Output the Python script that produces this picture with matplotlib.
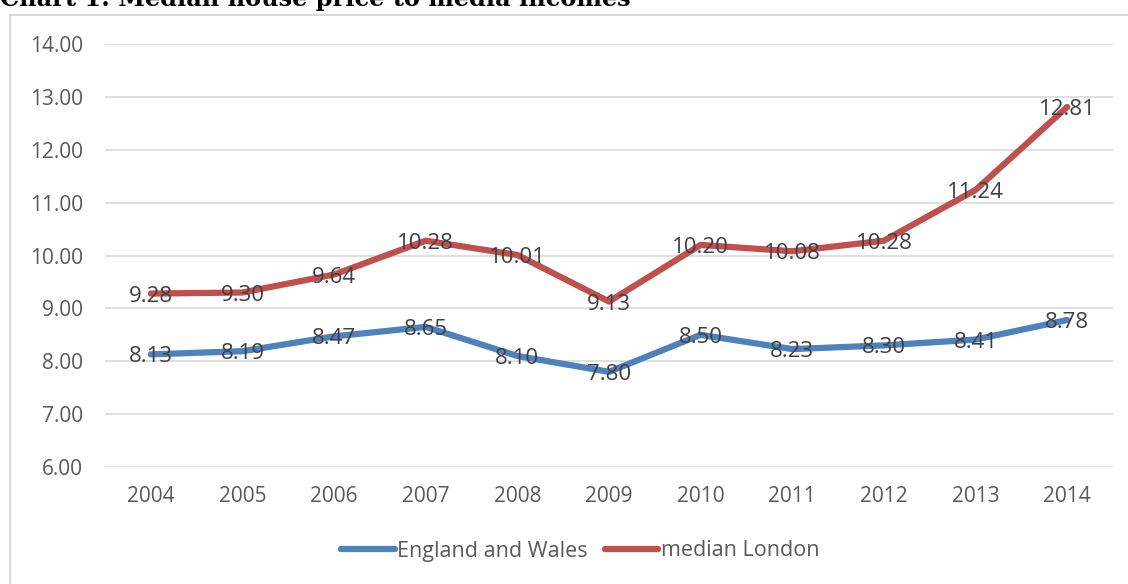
import numpy as np
import matplotlib.pyplot as plt
from matplotlib.patches import Rectangle

years = ['2004', '2005', '2006', '2007', '2008', '2009', '2010', '2011', '2012', '2013', '2014']
england_wales = [8.13, 8.19, 8.47, 8.65, 8.10, 7.80, 8.50, 8.23, 8.30, 8.41, 8.78]
london = [9.28, 9.30, 9.64, 10.28, 10.01, 9.13, 10.20, 10.08, 10.28, 11.24, 12.81]
y_ticks = [6, 7, 8, 9, 10, 11, 12, 13, 14]

plt.rcParams['font.family'] = ['Open Sans', 'DejaVu Sans']

fig = plt.figure(figsize=(11.28, 5.84), dpi=100)
ax = fig.add_axes([105 / 1128, 1 - 467 / 584, 1008 / 1128, 423 / 584])

# chart border, cut off on the right and bottom like the screenshot
fig.patches.append(Rectangle((10 / 1128, -0.1), 1.2, 1.1 - 15 / 584,
                             transform=fig.transFigure, fill=False,
                             edgecolor='#d9d9d9', linewidth=1.5))

fig.text(0.0, 1 + 1 / 584, 'Chart 1: Median house price to media incomes',
         family='DejaVu Serif', fontweight='bold', fontsize=17.3, va='center', ha='left')

x = np.arange(len(years))
ax.plot(x, england_wales, color='#4f81bd', linewidth=4.5, solid_capstyle='round',
        solid_joinstyle='round', label='England and Wales')
ax.plot(x, london, color='#c0504d', linewidth=4.5, solid_capstyle='round',
        solid_joinstyle='round', label='median London')

# data labels sit centred on the points
for xi, v in zip(x, england_wales):
    ax.text(xi, v, f'{v:.2f}', ha='center', va='center_baseline', fontsize=16, color='#404040')
for xi, v in zip(x, london):
    ax.text(xi, v, f'{v:.2f}', ha='center', va='center_baseline', fontsize=16, color='#404040')

ax.set_xlim(-0.5, 10.5)
ax.set_ylim(6, 14)
ax.set_yticks(y_ticks)
ax.set_yticklabels([f'{t:.2f}' for t in y_ticks])
ax.set_xticks(x)
ax.set_xticklabels(years)
ax.yaxis.grid(True, linestyle='-', color='#d9d9d9', linewidth=1.2)
ax.set_axisbelow(True)
for s in ax.spines.values():
    s.set_visible(False)
ax.tick_params(length=0, labelsize=15, colors='#595959')
ax.tick_params(axis='y', pad=16)
ax.tick_params(axis='x', pad=14)

leg = fig.legend(loc='center', bbox_to_anchor=(580 / 1128, 1 - 551 / 584), ncol=2,
                 frameon=False, fontsize=15.5, handlelength=2.5, handletextpad=0.1,
                 columnspacing=0.8)
for t in leg.get_texts():
    t.set_color('#595959')

fig.savefig('out.png', dpi=100)
